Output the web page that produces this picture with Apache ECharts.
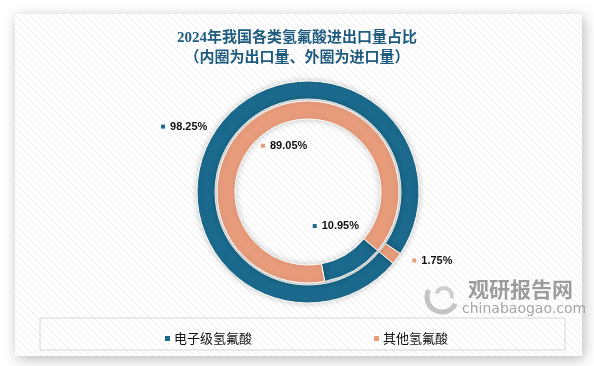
<!DOCTYPE html>
<html>
<head>
<meta charset="utf-8">
<script src="https://cdn.jsdelivr.net/npm/echarts@6/dist/echarts.min.js"></script>
<style>
html,body{margin:0;padding:0;background:#fff;}
#chart{width:594px;height:366px;}
</style>
</head>
<body>
<div id="chart"></div>
<script>
// ---- data ----
const categories = ['电子级氢氟酸', '其他氢氟酸'];
const innerExportShare = [10.95, 89.05];   // 内圈：出口量占比 (%)
const outerImportShare = [98.25, 1.75];    // 外圈：进口量占比 (%)
const titleLines = ['2024年我国各类氢氟酸进出口量占比', '（内圈为出口量、外圈为进口量）'];

// ---- style / layout ----
const colors = ['#1b6a8d', '#e89c7b'];
const CX = 308, CY = 192;
const START = -40; // math degrees, slices run clockwise
// label placement: [angle offset from slice middle (deg), distance from centre (px)]
const outerLabelPolar = [[9, 140], [8, 142]];
const innerLabelPolar = [[9, 44], [-3, 52]];

function spot(values, idx, polar) {
  let cum = 0;
  for (let i = 0; i < idx; i++) cum += values[i];
  const mid = START - (cum + values[idx] / 2) / 100 * 360 + polar[0];
  const a = mid * Math.PI / 180;
  return { x: CX + polar[1] * Math.cos(a), y: CY - polar[1] * Math.sin(a) };
}

function makePattern() {
  const c = document.createElement('canvas');
  c.width = 7; c.height = 7;
  const g = c.getContext('2d');
  g.fillStyle = '#ffffff';
  g.fillRect(0, 0, 7, 7);
  g.strokeStyle = '#ececec';
  g.lineWidth = 1;
  g.beginPath();
  g.moveTo(-1, -1); g.lineTo(8, 8);
  g.stroke();
  return c;
}

const rich = {
  m0: { width: 4, height: 4, backgroundColor: colors[0] },
  m1: { width: 4, height: 4, backgroundColor: colors[1] },
  v: { fontSize: 11, fontWeight: 'bold', color: '#111', fontFamily: 'Liberation Sans', padding: [0, 0, 0, 5] }
};

function ringData(values) {
  return categories.map((name, i) => ({ name: name, value: values[i], itemStyle: { color: colors[i] } }));
}

function ringLabel() {
  return {
    show: true,
    position: 'inside',
    formatter: p => '{m' + p.dataIndex + '|}{v|' + p.value.toFixed(2) + '%}',
    rich: rich
  };
}

const chart = echarts.init(document.getElementById('chart'), null, { renderer: 'canvas' });

const option = {
  backgroundColor: '#ffffff',
  animation: false,
  color: colors,
  title: {
    text: titleLines.join('\n'),
    left: 'center',
    top: 28,
    padding: 0,
    textStyle: {
      fontSize: 15,
      fontWeight: 'bold',
      lineHeight: 20,
      color: '#1e5b7e',
      fontFamily: "'Liberation Serif', 'Noto Sans CJK SC'"
    }
  },
  legend: {
    data: categories,
    left: 158,
    top: 327,
    icon: 'rect',
    itemWidth: 7,
    itemHeight: 7,
    itemGap: 120,
    textStyle: { fontSize: 13, color: '#111', fontFamily: 'Noto Sans CJK SC', padding: [0, 0, 0, -2] }
  },
  graphic: [
    {
      type: 'rect', z: -10, silent: true,
      shape: { x: 15, y: 14, width: 567, height: 342 },
      style: { fill: { image: makePattern(), repeat: 'repeat' }, shadowBlur: 14, shadowColor: 'rgba(0,0,0,0.28)', shadowOffsetX: 2, shadowOffsetY: 3 }
    },
    {
      type: 'rect', z: -5, silent: true,
      shape: { x: 40, y: 318, width: 525, height: 32 },
      style: { fill: 'transparent', stroke: '#d6d6d6', lineWidth: 1 }
    },
    {
      type: 'arc', z: -4, silent: true,
      shape: { cx: 442, cy: 297, r: 15, startAngle: Math.PI * 0.15, endAngle: Math.PI * 1.15 },
      style: { stroke: '#c4c4c4', lineWidth: 5, fill: 'none' }
    },
    {
      type: 'arc', z: -4, silent: true,
      shape: { cx: 444, cy: 296, r: 8, startAngle: Math.PI * 1.1, endAngle: Math.PI * 2.1 },
      style: { stroke: '#cfcfcf', lineWidth: 4, fill: 'none' }
    },
    {
      type: 'text', z: -4, silent: true,
      left: 468, top: 279,
      style: { text: '观研报告网', fill: '#9c9c9c', font: 'bold 21px "Noto Sans CJK SC"' }
    },
    {
      type: 'text', z: -4, silent: true,
      left: 462, top: 302,
      style: { text: 'chinabaogao.com', fill: '#a6a6a6', font: '14px "DejaVu Sans"' }
    }
  ],
  series: [
    {
      name: '外圈', type: 'pie',
      center: [CX, CY], radius: [93, 111],
      startAngle: START, clockwise: true,
      avoidLabelOverlap: false,
      itemStyle: { borderColor: '#ffffff', borderWidth: 1, shadowBlur: 6, shadowColor: 'rgba(0,0,0,0.22)' },
      label: ringLabel(),
      labelLine: { show: false },
      labelLayout: p => { const s = spot(outerImportShare, p.dataIndex, outerLabelPolar[p.dataIndex]); return { x: s.x, y: s.y, align: 'center', verticalAlign: 'middle' }; },
      emphasis: { disabled: true },
      data: ringData(outerImportShare)
    },
    {
      name: '内圈', type: 'pie',
      center: [CX, CY], radius: [73, 91],
      startAngle: START, clockwise: true,
      avoidLabelOverlap: false,
      itemStyle: { borderColor: '#ffffff', borderWidth: 1, shadowBlur: 6, shadowColor: 'rgba(0,0,0,0.22)' },
      label: ringLabel(),
      labelLine: { show: false },
      labelLayout: p => { const s = spot(innerExportShare, p.dataIndex, innerLabelPolar[p.dataIndex]); return { x: s.x, y: s.y, align: 'center', verticalAlign: 'middle' }; },
      emphasis: { disabled: true },
      data: ringData(innerExportShare)
    }
  ]
};
chart.setOption(option);
</script>
</body>
</html>
